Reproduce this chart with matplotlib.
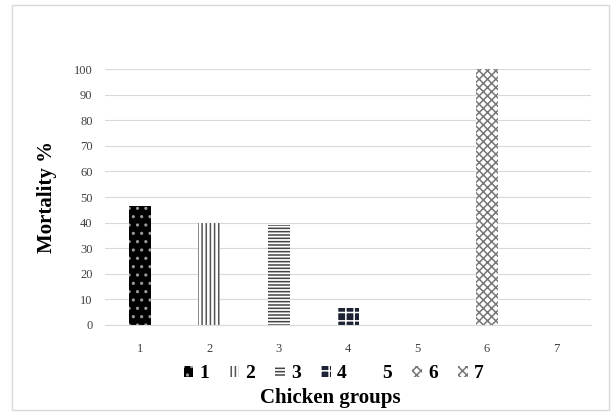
import numpy as np
import matplotlib.pyplot as plt
from matplotlib.patches import Rectangle

plt.rcParams['font.family'] = ['Liberation Serif', 'DejaVu Serif']
plt.rcParams['hatch.linewidth'] = 1.1

groups = ['1', '2', '3', '4', '5', '6', '7']
mortality = [46.7, 40, 39, 6.7, 0, 100, 0]
yticks = [0, 10, 20, 30, 40, 50, 60, 70, 80, 90, 100]

faces = ['black', 'white', 'white', '#1c2233', 'white', 'white', 'white']
hatch_cols = ['#999999', '#555555', '#444444', 'white', '#999999', '#777777', '#777777']
hatches = ['..', '||||', '-----', '++', '', 'xxxx', 'xxxx']

fig = plt.figure(figsize=(6.13, 4.12), dpi=100)
fig.patches.append(Rectangle((0.0196, 0.005), 0.974, 0.983, transform=fig.transFigure,
                             fill=False, edgecolor='#d9d9d9', linewidth=1.0))
ax = fig.add_axes([0.1713, 0.2112, 0.793, 0.621])

x = np.arange(len(groups))
for i in range(len(groups)):
    ax.bar(x[i], mortality[i], width=0.32, color=faces[i], edgecolor=hatch_cols[i],
           hatch=hatches[i], linewidth=0, label=groups[i])

ax.set_ylim(0, 100)
ax.set_xlim(-0.5, 6.5)
ax.set_yticks(yticks)
ax.set_xticks(x)
ax.set_xticklabels(groups)
ax.tick_params(length=0, labelsize=9, colors='#404040')
ax.tick_params(axis='x', pad=13)
ax.tick_params(axis='y', pad=9)
ax.yaxis.grid(True, color='#d9d9d9', linewidth=0.8)
ax.set_axisbelow(True)
for s in ['top', 'right', 'left']:
    ax.spines[s].set_visible(False)
ax.spines['bottom'].set_color('#d9d9d9')

ax.set_ylabel('Mortality %', fontsize=15, fontweight='bold')
ax.yaxis.set_label_coords(-0.099, 0.5)
ax.set_xlabel('Chicken groups', fontsize=15, fontweight='bold')
ax.xaxis.set_label_coords(0.463, -0.246)

ax.legend(ncol=7, loc='center', bbox_to_anchor=(0.47, -0.191), frameon=False,
          prop={'size': 14, 'weight': 'bold'}, handlelength=0.5, handleheight=0.5,
          handletextpad=0.3, columnspacing=1.05, borderpad=0)

fig.savefig('out.png', dpi=100)
